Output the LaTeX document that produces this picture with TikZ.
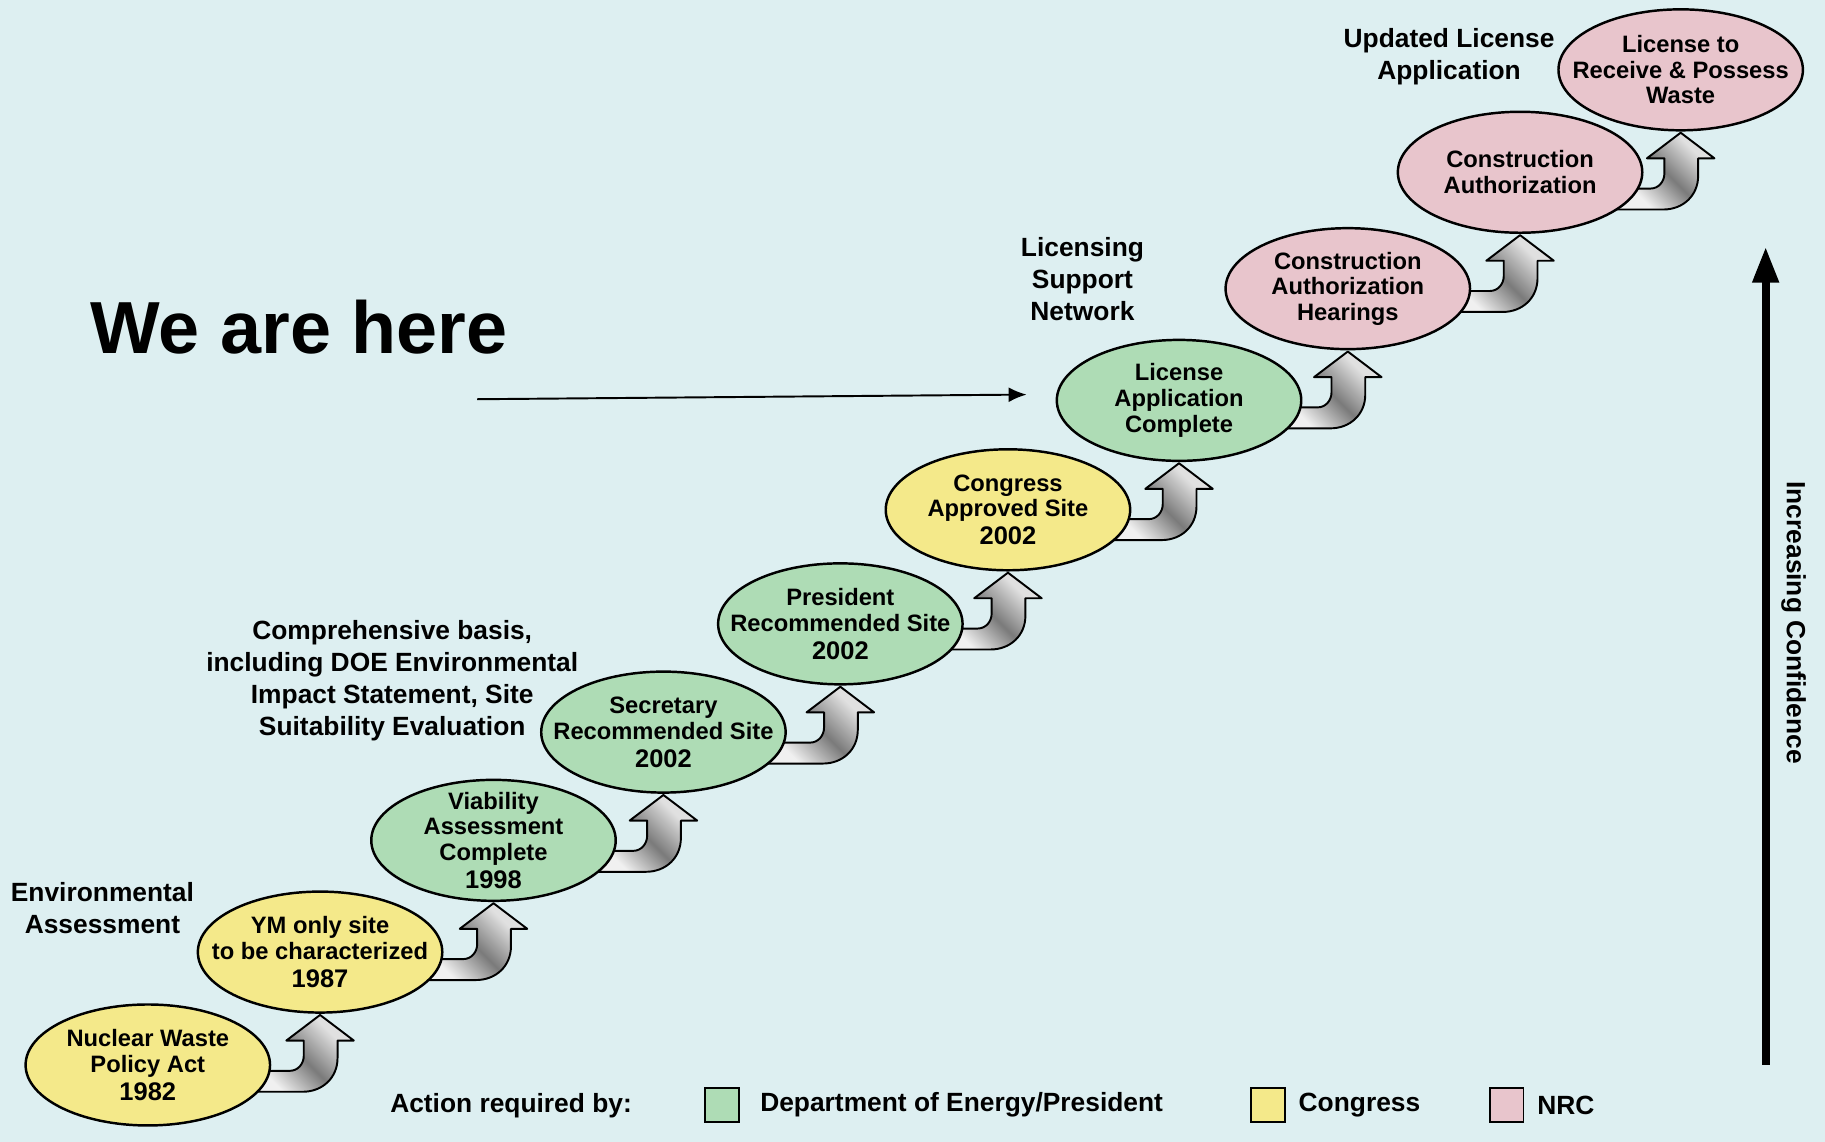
\documentclass[tikz,border=0pt]{standalone}
\usepackage{fontspec}
\setmainfont{Liberation Sans}
\usepackage{tikz}
\usetikzlibrary{arrows.meta,positioning,calc,shapes.geometric}
\definecolor{Backdrop}{HTML}{DDEFF1}
\definecolor{CongressFill}{HTML}{F4E98A}
\definecolor{EnergyFill}{HTML}{AEDCB5}
\definecolor{NrcFill}{HTML}{E8C5CC}
\pgfdeclarelayer{back}
\pgfdeclarelayer{turns}
\pgfsetlayers{back,turns,main}
\pgfdeclarehorizontalshading{turnshade}{100bp}{color(0bp)=(black!5); color(30bp)=(black!6); color(50bp)=(black!52); color(70bp)=(black!12); color(100bp)=(black!12)}
\newcommand{\yearsize}{\fontsize{14.5}{15}\selectfont}

\begin{document}
\begin{tikzpicture}[x=0.023278cm, y=-0.023278cm, >=Latex,
  every node/.style={font=\bfseries},
  stage/.style={ellipse, draw=black, line width=1.4pt, inner sep=0pt, minimum width=4.89cm, minimum height=2.42cm},
  stagetext/.style={font=\fontsize{13.5}{14.6}\selectfont\bfseries, align=center, inner sep=0pt},
  note/.style={font=\fontsize{15}{18.2}\selectfont\bfseries, align=center, inner sep=0pt},
  keybox/.style={draw=black, line width=1pt, inner sep=0pt, minimum size=0.675cm},
  keytext/.style={font=\fontsize{15}{18}\selectfont\bfseries, inner sep=0pt, anchor=west},
  turn/.style={draw=black, line width=1.1pt, line join=round, shade, shading=turnshade, shading angle=45}]
  \useasboundingbox (0,0) rectangle (1568,981);
  \begin{pgfonlayer}{back}
    \fill[Backdrop] (0,0) rectangle (1568,981);
  \end{pgfonlayer}
  \node[stage, fill=CongressFill] (nwpa) at (127,915) {};
  \node[stage, fill=CongressFill] (ymsite) at (275,818) {};
  \node[stage, fill=EnergyFill] (viab) at (424,722) {};
  \node[stage, fill=EnergyFill] (secrec) at (570,629) {};
  \node[stage, fill=EnergyFill] (presrec) at (722,536) {};
  \node[stage, fill=CongressFill] (congapp) at (866,438) {};
  \node[stage, fill=EnergyFill] (lac) at (1013,344) {};
  \node[stage, fill=NrcFill] (cahear) at (1158,248) {};
  \node[stage, fill=NrcFill] (cauth) at (1306,148) {};
  \node[stage, fill=NrcFill] (lrp) at (1444,60) {};
  \node[stagetext] (nwpa-t) at (nwpa) {Nuclear Waste\\Policy Act\\[1.3pt]{\yearsize 1982}};
  \node[stagetext] (ymsite-t) at (ymsite) {YM only site\\to be characterized\\[1.3pt]{\yearsize 1987}};
  \node[stagetext] (viab-t) at (viab) {Viability\\Assessment\\Complete\\[1.3pt]{\yearsize 1998}};
  \node[stagetext] (secrec-t) at (secrec) {Secretary\\Recommended Site\\[1.3pt]{\yearsize 2002}};
  \node[stagetext] (presrec-t) at (presrec) {President\\Recommended Site\\[1.3pt]{\yearsize 2002}};
  \node[stagetext] (congapp-t) at (congapp) {Congress\\Approved Site\\[1.3pt]{\yearsize 2002}};
  \node[stagetext] (lac-t) at (lac) {License\\Application\\Complete};
  \node[stagetext] (cahear-t) at (cahear) {Construction\\Authorization\\Hearings};
  \node[stagetext] (cauth-t) at (cauth) {Construction\\Authorization};
  \node[stagetext] (lrp-t) at (lrp) {License to\\Receive \& Possess\\Waste};
  \begin{pgfonlayer}{turns}
    \foreach \src/\dst in {nwpa/ymsite, ymsite/viab, viab/secrec, secrec/presrec, presrec/congapp, congapp/lac, lac/cahear, cahear/cauth, cauth/lrp} {
      \path[turn] ($(\dst.south)+(0,1)$) -- ($(\dst.south)+(29,23)$) -- ($(\dst.south)+(15,23)$) -- ($(\dst.south)+(15,38)$)
        .. controls ($(\dst.south)+(15,55)$) and ($(\dst.south)+(2,67)$) .. ($(\dst.south)+(-15,67)$)
        -- ($(\src.east |- \dst.south)+(-25,67)$) -- ($(\src.east |- \dst.south)+(-25,49)$) -- ($(\dst.south)+(-26,49)$)
        .. controls ($(\dst.south)+(-19,49)$) and ($(\dst.south)+(-14,43)$) .. ($(\dst.south)+(-14,36)$)
        -- ($(\dst.south)+(-14,23)$) -- ($(\dst.south)+(-29,23)$) -- cycle;
    }
  \end{pgfonlayer}
  \node[note] (envassess) at (88,780) {Environmental\\Assessment};
  \node[note] (compbasis) at (337,585) {Comprehensive basis,\\including DOE Environmental\\Impact Statement, Site\\Suitability Evaluation};
  \node[note] (lsn) at (930,240) {Licensing\\Support\\Network};
  \node[note] (ula) at (1245,49) {Updated License\\Application};
  \node[font=\fontsize{42}{48}\selectfont\bfseries, inner sep=0pt] (wearehere) at (257,281) {We are here};
  \coordinate (herefrom) at (410,343);
  \coordinate (hereto) at (882,339);
  \draw[line width=1.1pt, -{Latex[length=0.36cm, width=0.3cm]}] (herefrom) -- (hereto);
  \coordinate (conflow) at (1517,915);
  \coordinate (confhigh) at (1517,212);
  \draw[line width=4.5pt, -{Triangle[length=0.72cm, width=0.5cm]}] (conflow) -- (confhigh);
  \node[note, rotate=-90] (confidence) at (1541,535) {Increasing Confidence};
  \node[keytext] (keyhead) at (335,950) {Action required by:};
  \node[keybox, fill=EnergyFill] (keydoe) at (620.5,949.5) {};
  \node[keytext, right=0.4cm of keydoe] (keydoe-t) {Department of Energy/President};
  \node[keybox, fill=CongressFill] (keycong) at (1089.5,949.5) {};
  \node[keytext, right=0.25cm of keycong] (keycong-t) {Congress};
  \node[keybox, fill=NrcFill] (keynrc) at (1294.5,949.5) {};
  \node[keytext, right=0.25cm of keynrc] (keynrc-t) {NRC};
\end{tikzpicture}
\end{document}
